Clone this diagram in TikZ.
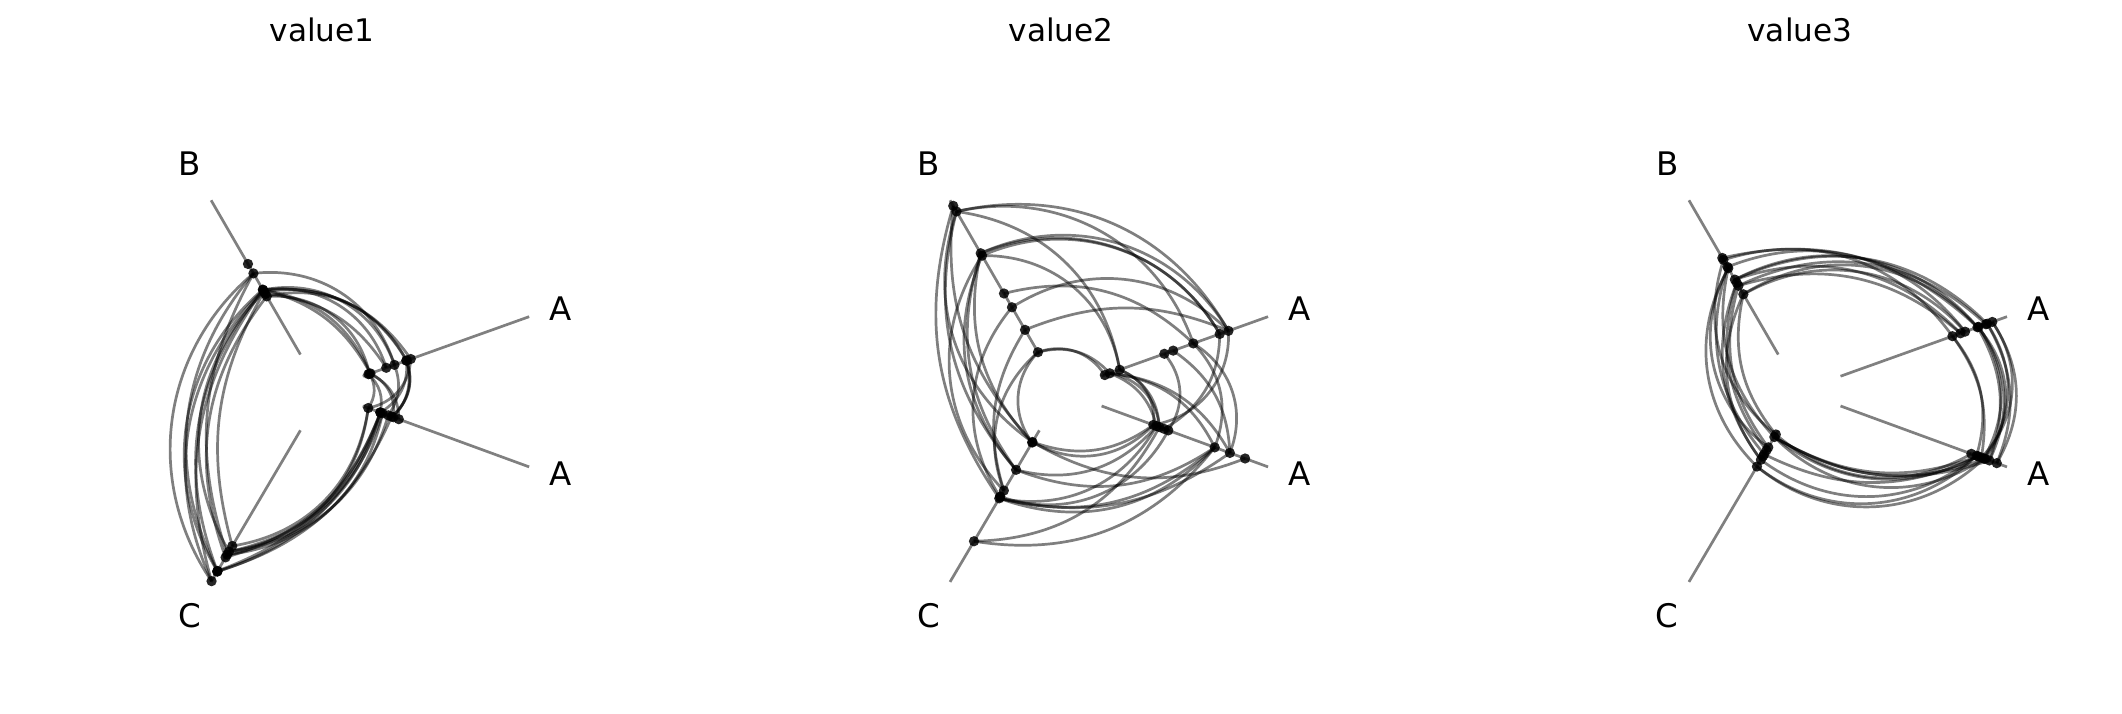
\documentclass[tikz,border=0pt]{standalone}
\usepackage{fontspec}
\setmainfont{DejaVu Sans}
\usetikzlibrary{calc,backgrounds}
\tikzset{
  axisline/.style={draw=black!50,line width=1pt},
  edge/.style={draw=black,draw opacity=0.5,line width=1pt},
  dot/.style={circle,fill=black,fill opacity=0.85,inner sep=0pt,minimum size=3.8pt},
  lbl/.style={font=\fontsize{12}{14}\selectfont},
  ttl/.style={font=\fontsize{11.5}{14}\selectfont}
}
\newcommand\edgecount{8}
\newcommand\hivepanel[9]{%
  \coordinate (#1B-in) at (#2,262); \coordinate (#1B-out) at (#2-66,148);
  \coordinate (#1C-in) at (#2,318); \coordinate (#1C-out) at (#2-66,430);
  \coordinate (#1Au-in) at (#2+46,278); \coordinate (#1Au-out) at (#2+169,234);
  \coordinate (#1Al-in) at (#2+46,300); \coordinate (#1Al-out) at (#2+169,345);
  \node[ttl] (#1title) at (#2+16,22) {#9};
  \node[lbl] (#1Blbl) at (#2-82,121) {B};
  \node[lbl] (#1Clbl) at (#2-82,455) {C};
  \node[lbl] (#1Aulbl) at (#2+192,228) {A};
  \node[lbl] (#1Allbl) at (#2+192,350) {A};
  \foreach \ax/\lo/\hi in {Au/#3/#4, Al/#3/#4, B/#5/#6, C/#7/#8}{
    \foreach \i in {1,...,8}{
      \pgfmathsetmacro\t{\lo+rnd*(\hi-\lo)}
      \node[dot] (#1\ax\i) at ($(#1\ax-in)!\t!(#1\ax-out)$) {};
    }}
  \begin{pgfonlayer}{background}
  \foreach \ax in {B,C,Au,Al}{\draw[axisline] (#1\ax-in)--(#1\ax-out);}
  \foreach \a/\b in {Au/B, B/C, C/Al, Al/Au}{
    \foreach \k in {1,...,\edgecount}{
      \pgfmathrandominteger\m{1}{8}
      \pgfmathrandominteger\n{1}{8}
      \pgfmathsetmacro\bnd{22+rnd*20}
      \draw[edge] (#1\a\m.center) to[bend right=\bnd] (#1\b\n.center);
    }}
  \end{pgfonlayer}
}
\begin{document}
\begin{tikzpicture}[x=0.5pt,y=-0.5pt]
\pgfmathsetseed{7}
\useasboundingbox (0,0) rectangle (1568,527.6);
\renewcommand\edgecount{10}
\hivepanel{p1}{222}{0.0}{0.3}{0.36}{0.64}{0.68}{1.0}{value1}
\renewcommand\edgecount{12}
\hivepanel{p2}{768}{0.0}{1.0}{0.0}{1.0}{0.0}{1.0}{value2}
\renewcommand\edgecount{10}
\hivepanel{p3}{1314}{0.67}{0.95}{0.36}{0.64}{0.0}{0.25}{value3}
\end{tikzpicture}
\end{document}
